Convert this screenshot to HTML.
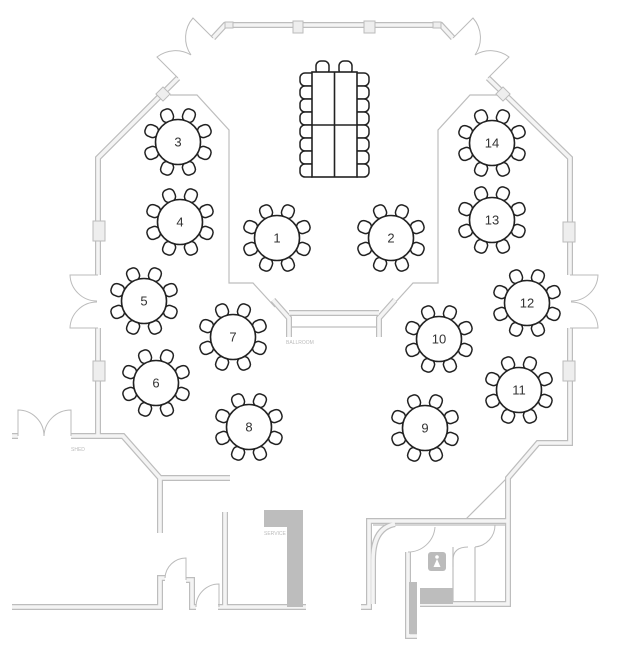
<!DOCTYPE html>
<html><head><meta charset="utf-8"><style>
html,body{margin:0;padding:0;background:#fff;width:632px;height:660px;overflow:hidden}
svg{display:block}
.wo{fill:none;stroke:#bdbdbd;stroke-width:6;stroke-linejoin:miter}
.wi{fill:none;stroke:#f4f4f4;stroke-width:3.6;stroke-linejoin:miter}
.th{fill:none;stroke:#bdbdbd;stroke-width:1.2}
.dr{fill:none;stroke:#bbb;stroke-width:1}
.pl{fill:#eee;stroke:#bbb;stroke-width:1}
.ch{fill:#fff;stroke:#222;stroke-width:1.5}
.tb{fill:#fff;stroke:#222;stroke-width:1.6}
.num{font-family:"Liberation Sans",sans-serif;font-size:13px;fill:#333;text-anchor:middle;dominant-baseline:central}
.lbl{font-family:"Liberation Sans",sans-serif;font-size:5px;fill:#bbb}
</style></head><body>
<svg width="632" height="660" viewBox="0 0 632 660" xmlns="http://www.w3.org/2000/svg">
<defs>
<rect id="c" class="ch" x="-6" y="-35" width="12" height="13" rx="5"/>
<g id="t">
<use href="#c" transform="rotate(22.5)"/><use href="#c" transform="rotate(67.5)"/>
<use href="#c" transform="rotate(112.5)"/><use href="#c" transform="rotate(157.5)"/>
<use href="#c" transform="rotate(202.5)"/><use href="#c" transform="rotate(247.5)"/>
<use href="#c" transform="rotate(292.5)"/><use href="#c" transform="rotate(337.5)"/>
<circle class="tb" r="22.5"/>
</g>
<path id="walls" d="M213,38 L225,25 L441,25 L453,38
M178,78 L98,158 L98,275 M98,328 L98,436
M488,78 L570,158 L570,275 M570,328 L570,443 L538,443 L508,478 L508,604 L420,604
M508,521 L369,521 L369,607 L361,607
M71,436 L123,436 L160,478 L230,478 M160,478 L160,533
M225,512 L225,607
M12,607 L160,607 L160,578 L165,578 M186,580 L192,580 L192,607 L196,607 M218,607 L306,607
M12,436 L18,436
M273,300 L289,318 L289,337 M289,313 L379,313 M379,337 L379,318 L395,300
M408,552 L408,636 L417,636
M373,604 L373,560 Q373,528 395,524"/>
</defs>

<path class="th" d="M170,95 L197,95 L229,130 L229,283 L253,283 L275,307"/>
<path class="th" d="M497,95 L470,95 L438,130 L438,283 L413,283 L393,305"/>
<path class="th" d="M290,327 L378,327"/>
<path class="th" d="M508,477 L464,521"/>
<path class="th" d="M373,525 L505,525"/>
<path class="th" d="M453,547 L453,604 M475,547 L475,604"/>

<use href="#walls" class="wo"/>
<use href="#walls" class="wi"/>

<g class="dr">
<path d="M98,275 L70,275 A27,27 0 0 0 97,301 M98,328 L70,328 A27,27 0 0 1 97,302"/>
<path d="M570,275 L598,275 A27,27 0 0 1 571,301 M570,328 L598,328 A27,27 0 0 0 571,302"/>
<path d="M18,436 L18,410 A26,26 0 0 1 44,436 M71,436 L71,410 A27,27 0 0 0 44,436"/>
<path d="M213,38 L193,18 A30,30 0 0 0 191,55 M178,78 L157,57 A30,30 0 0 1 191,55"/>
<path d="M453,38 L473,18 A30,30 0 0 1 475,55 M488,78 L509,57 A30,30 0 0 0 475,55"/>
<path d="M186,580 L186,558 A21,21 0 0 0 165,578"/>
<path d="M219,607 L219,584 A23,23 0 0 0 196,607"/>
<path d="M408,552 A27,27 0 0 0 435,527 M475,547 A22,22 0 0 0 495,525 M453,567 L453,560 Q453,547 468,547"/>
</g>

<rect class="pl" x="293" y="21" width="10" height="12"/>
<rect class="pl" x="364" y="21" width="11" height="12"/>
<rect class="pl" x="225" y="22" width="8" height="6"/>
<rect class="pl" x="433" y="22" width="8" height="6"/>
<rect class="pl" x="93" y="221" width="12" height="20"/>
<rect class="pl" x="93" y="361" width="12" height="20"/>
<rect class="pl" x="563" y="222" width="12" height="20"/>
<rect class="pl" x="563" y="361" width="12" height="20"/>
<rect class="pl" x="-5" y="-5" width="10" height="10" transform="translate(163,94) rotate(45)"/>
<rect class="pl" x="-5" y="-5" width="10" height="10" transform="translate(503,94) rotate(45)"/>

<rect x="264" y="510" width="39" height="17" fill="#bdbdbd"/>
<rect x="287" y="510" width="16" height="97" fill="#bdbdbd"/>
<rect x="409" y="582" width="8" height="52" fill="#bdbdbd"/>
<rect x="420" y="588" width="33" height="16" fill="#bdbdbd"/>
<rect x="428" y="552" width="18" height="19" rx="3" fill="#bbb"/>
<circle cx="437" cy="557" r="1.8" fill="#fff"/>
<path d="M437,559 L433.5,567 L440.5,567 Z" fill="#fff"/>

<g>
<rect class="ch" x="316" y="61" width="13" height="14" rx="5"/>
<rect class="ch" x="339" y="61" width="13" height="14" rx="5"/>
<g id="lc">
<rect class="ch" x="300" y="73" width="16" height="13" rx="5"/>
<rect class="ch" x="300" y="86" width="16" height="13" rx="5"/>
<rect class="ch" x="300" y="99" width="16" height="13" rx="5"/>
<rect class="ch" x="300" y="112" width="16" height="13" rx="5"/>
<rect class="ch" x="300" y="125" width="16" height="13" rx="5"/>
<rect class="ch" x="300" y="138" width="16" height="13" rx="5"/>
<rect class="ch" x="300" y="151" width="16" height="13" rx="5"/>
<rect class="ch" x="300" y="164" width="16" height="13" rx="5"/>
</g>
<use href="#lc" transform="translate(669,0) scale(-1,1)"/>
<rect x="312" y="72" width="45" height="105" fill="#fff" stroke="#222" stroke-width="1.6"/>
<line x1="334.5" y1="72" x2="334.5" y2="177" stroke="#222" stroke-width="1.6"/>
<line x1="312" y1="125" x2="357" y2="125" stroke="#222" stroke-width="1.6"/>
</g>

<use href="#t" x="277" y="238"/><text class="num" x="277" y="238">1</text>
<use href="#t" x="391" y="238"/><text class="num" x="391" y="238">2</text>
<use href="#t" x="178" y="142"/><text class="num" x="178" y="142">3</text>
<use href="#t" x="180" y="222"/><text class="num" x="180" y="222">4</text>
<use href="#t" x="144" y="301"/><text class="num" x="144" y="301">5</text>
<use href="#t" x="156" y="383"/><text class="num" x="156" y="383">6</text>
<use href="#t" x="233" y="337"/><text class="num" x="233" y="337">7</text>
<use href="#t" x="249" y="427"/><text class="num" x="249" y="427">8</text>
<use href="#t" x="425" y="428"/><text class="num" x="425" y="428">9</text>
<use href="#t" x="439" y="339"/><text class="num" x="439" y="339">10</text>
<use href="#t" x="519" y="390"/><text class="num" x="519" y="390">11</text>
<use href="#t" x="527" y="303"/><text class="num" x="527" y="303">12</text>
<use href="#t" x="492" y="220"/><text class="num" x="492" y="220">13</text>
<use href="#t" x="492" y="143"/><text class="num" x="492" y="143">14</text>

<text class="lbl" x="71" y="451">SHED</text>
<text class="lbl" x="264" y="535">SERVICE</text>
<text class="lbl" x="286" y="344">BALLROOM</text>
</svg>
</body></html>
